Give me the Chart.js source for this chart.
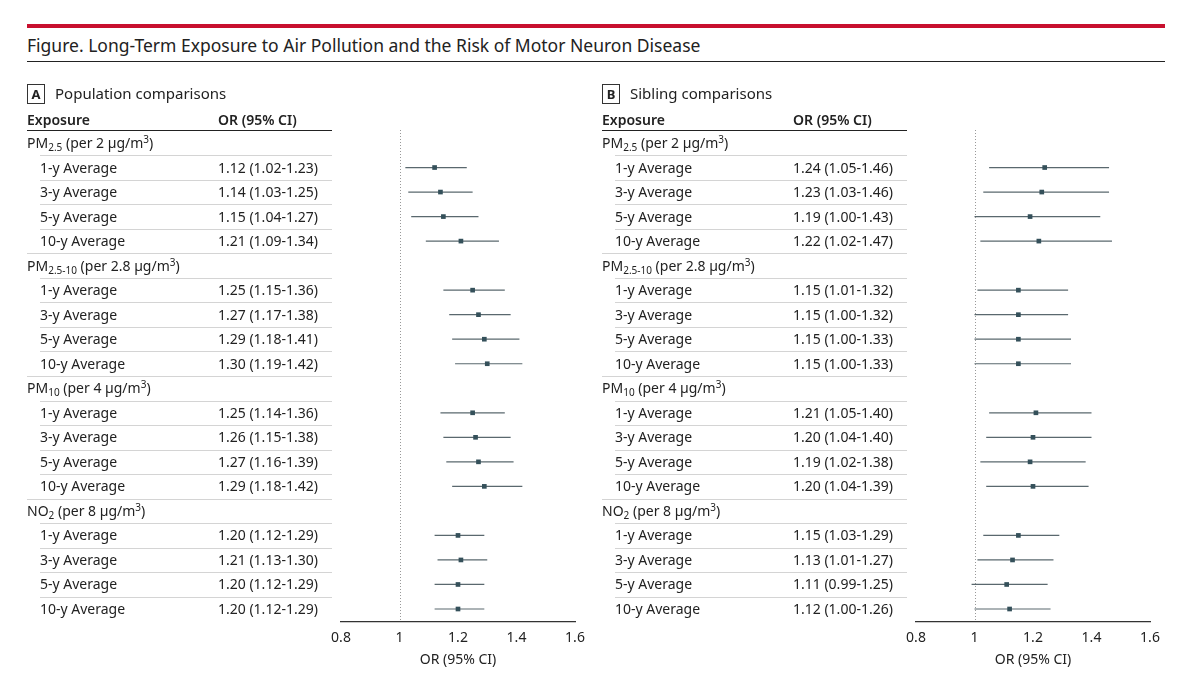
<!DOCTYPE html>
<html>
<head>
<meta charset="utf-8">
<script src="https://cdn.jsdelivr.net/npm/chart.js"></script>
<style>
  body { margin:0; width:1200px; height:686px; background:#fff; font-family:"Noto Sans", sans-serif; color:#222; overflow:hidden; }
  #wrap { position:relative; width:1200px; height:686px; }
  canvas { position:absolute; top:0; width:600px; height:686px; }
  .t { position:absolute; font-size:14px; line-height:18px; white-space:nowrap; transform:translateY(-50%); }
  sub { font-size:10px; vertical-align:-3px; line-height:0; }
  sup { font-size:10px; vertical-align:5px; line-height:0; }
</style>
</head>
<body>
<div id="wrap">
  <div style="position:absolute;left:27px;top:24px;width:1138px;height:4px;background:#c8102e"></div>
  <div style="position:absolute;left:27px;top:33px;font-size:17.5px;">Figure. Long-Term Exposure to Air Pollution and the Risk of Motor Neuron Disease</div>
  <div style="position:absolute;left:27px;top:61px;width:1138px;height:1px;background:#222"></div>
  <canvas id="chartA" width="600" height="686"></canvas>
  <canvas id="chartB" width="600" height="686"></canvas>
</div>
<script>
// rows: group headers and sub rows, top to bottom
const groups = ['PM<sub>2.5</sub> (per 2 µg/m<sup>3</sup>)', 'PM<sub>2.5-10</sub> (per 2.8 µg/m<sup>3</sup>)',
                'PM<sub>10</sub> (per 4 µg/m<sup>3</sup>)', 'NO<sub>2</sub> (per 8 µg/m<sup>3</sup>)'];
const periods = ['1-y Average', '3-y Average', '5-y Average', '10-y Average'];
const xTicks = [0.8, 1, 1.2, 1.4, 1.6];

// Panel A: population comparisons
const orA = [1.12, 1.14, 1.15, 1.21, 1.25, 1.27, 1.29, 1.30, 1.25, 1.26, 1.27, 1.29, 1.20, 1.21, 1.20, 1.20];
const loA = [1.02, 1.03, 1.04, 1.09, 1.15, 1.17, 1.18, 1.19, 1.14, 1.15, 1.16, 1.18, 1.12, 1.13, 1.12, 1.12];
const hiA = [1.23, 1.25, 1.27, 1.34, 1.36, 1.38, 1.41, 1.42, 1.36, 1.38, 1.39, 1.42, 1.29, 1.30, 1.29, 1.29];
// Panel B: sibling comparisons
const orB = [1.24, 1.23, 1.19, 1.22, 1.15, 1.15, 1.15, 1.15, 1.21, 1.20, 1.19, 1.20, 1.15, 1.13, 1.11, 1.12];
const loB = [1.05, 1.03, 1.00, 1.02, 1.01, 1.00, 1.00, 1.00, 1.05, 1.04, 1.02, 1.04, 1.03, 1.01, 0.99, 1.00];
const hiB = [1.46, 1.46, 1.43, 1.47, 1.32, 1.32, 1.33, 1.33, 1.40, 1.40, 1.38, 1.39, 1.29, 1.27, 1.25, 1.26];

const rowOf = k => Math.floor(k / 4) * 5 + (k % 4) + 1;
const fmt = v => v.toFixed(2);

const forestPlugin = {
  id: 'forest',
  beforeDatasetsDraw(chart, args, opts) {
    const {ctx, scales: {x, y}} = chart;
    ctx.save();
    // table lines
    ctx.strokeStyle = '#222'; ctx.lineWidth = 1.2;
    ctx.beginPath(); ctx.moveTo(opts.tx0, 130.5); ctx.lineTo(opts.tx1, 130.5); ctx.stroke();
    ctx.strokeStyle = '#d4d4d4'; ctx.lineWidth = 1;
    for (let i = 0; i < 19; i++) {
      const yy = Math.round(y.getPixelForValue(i + 0.5)) + 0.5;
      const nextHeader = (i + 1) % 5 === 0;
      ctx.beginPath(); ctx.moveTo(nextHeader ? opts.tx0 : opts.tx0 + 13, yy); ctx.lineTo(opts.tx1, yy); ctx.stroke();
    }
    // reference line at 1
    const x1 = Math.round(x.getPixelForValue(1)) + 0.5;
    ctx.strokeStyle = '#999'; ctx.setLineDash([1, 2]);
    ctx.beginPath(); ctx.moveTo(x1, chart.chartArea.top); ctx.lineTo(x1, chart.chartArea.bottom); ctx.stroke();
    ctx.setLineDash([]);
    // CI whiskers
    ctx.strokeStyle = '#5a686e'; ctx.lineWidth = 1.2;
    opts.lo.forEach((lo, k) => {
      const yy = y.getPixelForValue(rowOf(k));
      ctx.beginPath(); ctx.moveTo(x.getPixelForValue(lo), yy); ctx.lineTo(x.getPixelForValue(opts.hi[k]), yy); ctx.stroke();
    });
    ctx.restore();
  }
};

function makePanel(id, left, letter, title, or, lo, hi) {
  const cv = document.getElementById(id);
  cv.style.left = left + 'px';
  const chart = new Chart(cv, {
    type: 'scatter',
    data: { datasets: [{ data: or.map((v, k) => ({x: v, y: rowOf(k)})),
      pointStyle: 'rect', pointRadius: 3.3, backgroundColor: '#34505a', borderColor: '#34505a', borderWidth: 0 }] },
    options: {
      responsive: false, maintainAspectRatio: false, animation: false, devicePixelRatio: 1,
      layout: { padding: { left: 341, right: 25, top: 130, bottom: 14 } },
      plugins: { legend: { display: false }, tooltip: { enabled: false },
        forest: { lo: lo, hi: hi, tx0: 27, tx1: 332 } },
      scales: {
        x: { type: 'linear', min: 0.8, max: 1.6,
          afterBuildTicks: s => { s.ticks = xTicks.map(v => ({value: v})); },
          afterFit: s => { s.height = 50; },
          grid: { display: false, drawOnChartArea: false, drawTicks: true, tickLength: 7, color: '#333' },
          border: { color: '#333', width: 1.2 },
          ticks: { padding: 1, color: '#222', font: { family: 'Noto Sans', size: 14 }, callback: v => String(v) },
          title: { display: true, text: 'OR (95% CI)', color: '#222', font: { family: 'Noto Sans', size: 14 }, padding: 4 } },
        y: { type: 'linear', min: -0.53, max: 19.53, reverse: true, display: false }
      }
    },
    plugins: [forestPlugin]
  });

  const wrap = document.getElementById('wrap');
  const add = (html, x, y, extra) => {
    const d = document.createElement('div');
    d.className = 't'; d.innerHTML = html;
    d.style.left = (left + x) + 'px'; d.style.top = y + 'px';
    if (extra) d.style.cssText += extra;
    wrap.appendChild(d);
  };
  add('<span style="display:inline-block;border:1px solid #333;width:16px;text-align:center;font-weight:bold;font-size:13px;margin-right:10px">' + letter + '</span>' + title, 27, 94, 'font-size:15px');
  add('<b style="font-weight:600">Exposure</b>', 27, 120);
  add('<b style="font-weight:600">OR (95% CI)</b>', 218, 120);
  const y = chart.scales.y;
  groups.forEach((g, gi) => add(g, 27, y.getPixelForValue(gi * 5)));
  or.forEach((v, k) => {
    const yy = y.getPixelForValue(rowOf(k));
    add(periods[k % 4], 40, yy);
    add(fmt(v) + ' (' + fmt(lo[k]) + '-' + fmt(hi[k]) + ')', 218, yy);
  });
}

makePanel('chartA', 0, 'A', 'Population comparisons', orA, loA, hiA);
makePanel('chartB', 575, 'B', 'Sibling comparisons', orB, loB, hiB);
</script>
</body>
</html>
